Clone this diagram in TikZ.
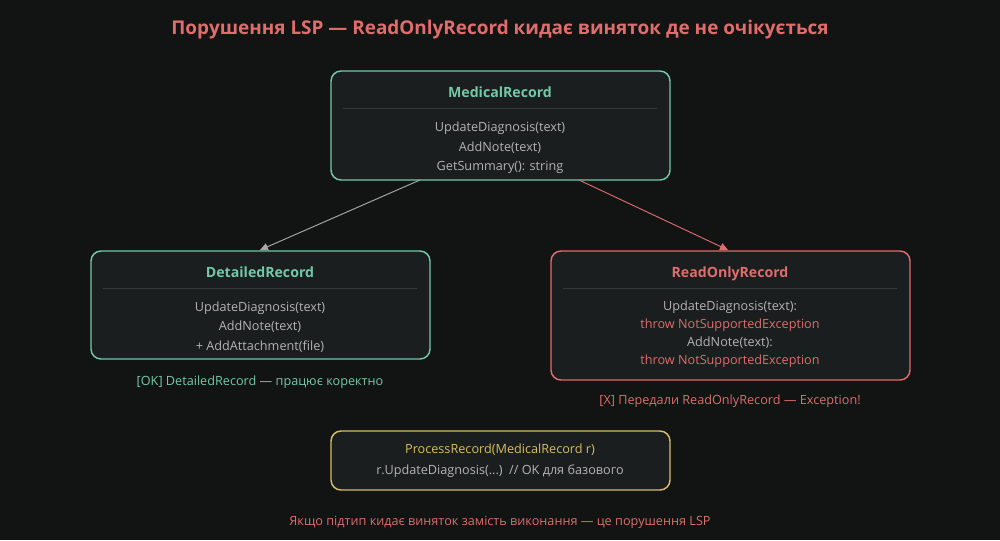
\documentclass[tikz,border=0pt]{standalone}
\usepackage{fontspec}
\setmainfont{Open Sans}
\usetikzlibrary{arrows.meta}
\definecolor{bg}{HTML}{121414}
\definecolor{boxbg}{HTML}{1A1E1E}
\definecolor{tealc}{HTML}{72C9A8}
\definecolor{redc}{HTML}{E06C6C}
\definecolor{yelc}{HTML}{D9BD62}
\definecolor{txtc}{HTML}{B4B4B4}
\definecolor{sepc}{HTML}{343838}
\definecolor{arrg}{HTML}{A8A8A8}
\tikzset{
  box/.style={draw=#1, fill=boxbg, line width=1.1pt, rounded corners=7.5pt, inner sep=0pt},
  ttl/.style={font=\fontsize{10.6}{12}\selectfont\bfseries, text=#1, inner sep=0pt, text height=0.92em, text depth=0.14em},
  mth/.style={font=\fontsize{9.5}{11}\selectfont, text=#1, inner sep=0pt, text height=0.92em, text depth=0.14em},
  sep/.style={draw=sepc, line width=0.6pt},
  conn/.style={draw=#1, line width=0.7pt, -{Triangle[length=6pt,width=5.5pt]}},
}
\begin{document}
\begin{tikzpicture}[x=0.75pt,y=-0.75pt]
\fill[bg] (0,0) rectangle (1000,540);
\useasboundingbox (0,0) rectangle (1000,540);

\node[font=\fontsize{14.2}{16}\selectfont\bfseries, text=redc, inner sep=0pt, text height=0.92em, text depth=0.14em] (title) at (500,29) {Порушення LSP — ReadOnlyRecord кидає виняток де не очікується};

% MedicalRecord
\node[box=tealc, minimum width=339*0.75pt, minimum height=109*0.75pt] (mr) at (500.5,125.5) {};
\node[ttl=tealc] (mrt) at (500,92) {MedicalRecord};
\draw[sep] (343,108) -- (657,108);
\node[mth=txtc] (mr1) at (500,126) {UpdateDiagnosis(text)};
\node[mth=txtc] (mr2) at (500,146) {AddNote(text)};
\node[mth=txtc] (mr3) at (500,165) {GetSummary(): string};

% DetailedRecord
\node[box=tealc, minimum width=339*0.75pt, minimum height=108*0.75pt] (dr) at (260.5,305) {};
\node[ttl=tealc] (drt) at (260,272) {DetailedRecord};
\draw[sep] (103,288) -- (417,288);
\node[mth=txtc] (dr1) at (260,306) {UpdateDiagnosis(text)};
\node[mth=txtc] (dr2) at (260,325) {AddNote(text)};
\node[mth=txtc] (dr3) at (260,345) {+ AddAttachment(file)};
\node[mth=tealc] (drc) at (260,380) {[OK] DetailedRecord — працює коректно};

% ReadOnlyRecord
\node[box=redc, minimum width=359*0.75pt, minimum height=129*0.75pt] (ro) at (730.5,315.5) {};
\node[ttl=redc] (rot) at (730,272) {ReadOnlyRecord};
\draw[sep] (563,288) -- (897,288);
\node[mth=txtc] (ro1) at (730,305) {UpdateDiagnosis(text):};
\node[mth=redc] (ro2) at (730,323) {throw NotSupportedException};
\node[mth=txtc] (ro3) at (730,341) {AddNote(text):};
\node[mth=redc] (ro4) at (730,359) {throw NotSupportedException};
\node[mth=redc] (roc) at (730,399) {[X] Передали ReadOnlyRecord — Exception!};

% ProcessRecord
\node[box=yelc, minimum width=339*0.75pt, minimum height=59*0.75pt] (pr) at (500.5,460.5) {};
\node[mth=yelc] (pr1) at (500,448) {ProcessRecord(MedicalRecord r)};
\node[mth=txtc] (pr2) at (500,469) {r.UpdateDiagnosis(...)~~// OK для базового};

\node[mth=redc] (foot) at (500,520) {Якщо підтип кидає виняток замість виконання — це порушення LSP};

% connectors
\coordinate (a1) at (420,180);
\coordinate (a2) at (260,250);
\coordinate (b1) at (579,180);
\coordinate (b2) at (728,250);
\draw[conn=arrg] (a1) -- (a2);
\draw[conn=redc] (b1) -- (b2);
\end{tikzpicture}
\end{document}
